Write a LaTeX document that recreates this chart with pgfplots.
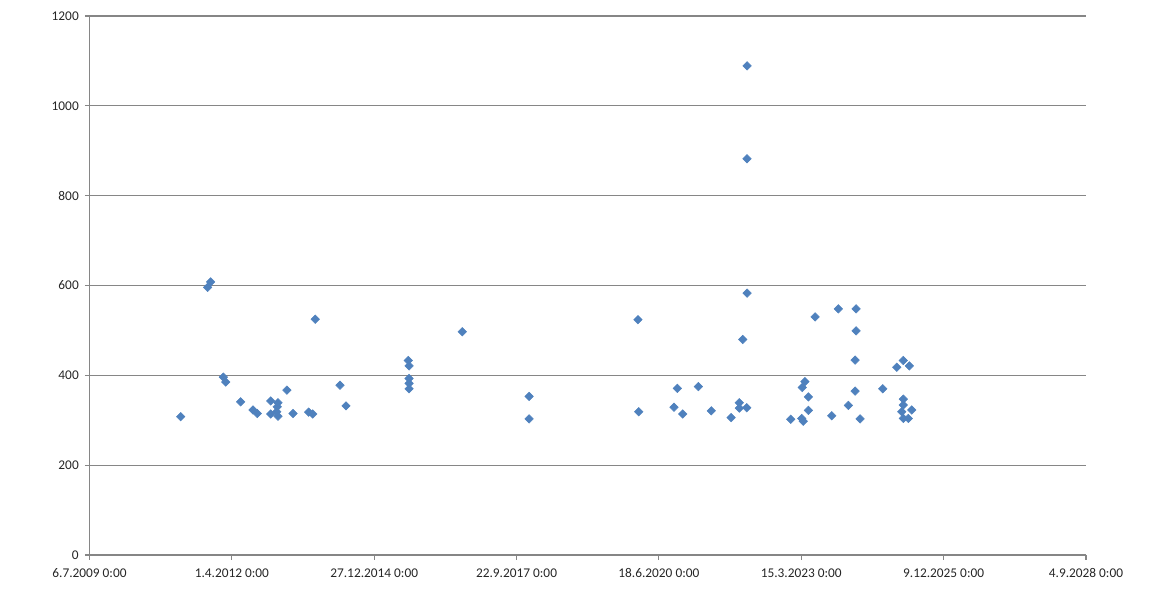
\documentclass[border=0pt]{standalone}
\usepackage{pgfplots}
\pgfplotsset{compat=1.18}
\usepackage{fontspec}
\setmainfont{Carlito}
\definecolor{exblue}{HTML}{4F81BD}
\definecolor{axgray}{HTML}{868686}
\begin{document}
\begin{tikzpicture}
\useasboundingbox (-67.1pt,-31.5pt) rectangle (798.4pt,416.25pt);
\begin{axis}[
  scale only axis,
  width=747.4pt, height=404.25pt,
  at={(0,0)}, anchor=south west,
  xmin=40000, xmax=47000,
  ymin=0, ymax=1200,
  scaled x ticks=false, scaled y ticks=false,
  xtick={40000,41000,42000,43000,44000,45000,46000,47000},
  xticklabels={6.7.2009 0:00,1.4.2012 0:00,27.12.2014 0:00,22.9.2017 0:00,18.6.2020 0:00,15.3.2023 0:00,9.12.2025 0:00,4.9.2028 0:00},
  ytick={0,200,...,1200},
  axis x line=bottom, axis y line=left,
  axis line style={-, axgray, line width=0.9pt},
  tick style={axgray, line width=0.8pt},
  major tick length=3.5pt,
  tick align=outside,
  ymajorgrids,
  grid style={axgray, line width=0.8pt},
  tick label style={font=\fontsize{10}{12}\selectfont, text=black!85},
  /pgf/number format/assume math mode=true,
  /pgf/number format/1000 sep={},
  xticklabel style={yshift=-3pt},
  yticklabel style={xshift=-1pt},
  clip=false,
]
\addplot[only marks, mark=square*, mark size=2.25pt,
  mark options={rotate=45, fill=exblue, draw=exblue}, color=exblue]
coordinates {
(40641,308) (40830,596) (40851,608) (40940,396) (40957,385)
(41062,341) (41149,323) (41179,315) (41273,343) (41273,314)
(41324,339) (41319,330) (41315,319) (41324,309) (41387,367)
(41430,315) (41540,318) (41568,314) (41586,525) (41760,378)
(41802,332)
(42240,433) (42245,421) (42245,393) (42245,382) (42245,370)
(42619,497) (43088,353) (43088,303)
(43853,524) (43858,319)
(44106,329) (44129,371) (44167,314) (44277,375) (44368,321)
(44507,306) (44565,339) (44565,327) (44589,480) (44617,328)
(44619,1089) (44619,882) (44619,583)
(44926,302) (45003,304) (45014,298) (45026,386) (45007,373)
(45050,352) (45050,322) (45097,530) (45214,310) (45260,548)
(45385,548) (45385,499) (45378,434) (45378,365) (45331,333)
(45413,303) (45572,370) (45671,418) (45717,433) (45759,421)
(45717,347) (45717,334) (45706,319) (45776,323) (45717,304)
(45752,304)
};
\end{axis}
\end{tikzpicture}
\end{document}
